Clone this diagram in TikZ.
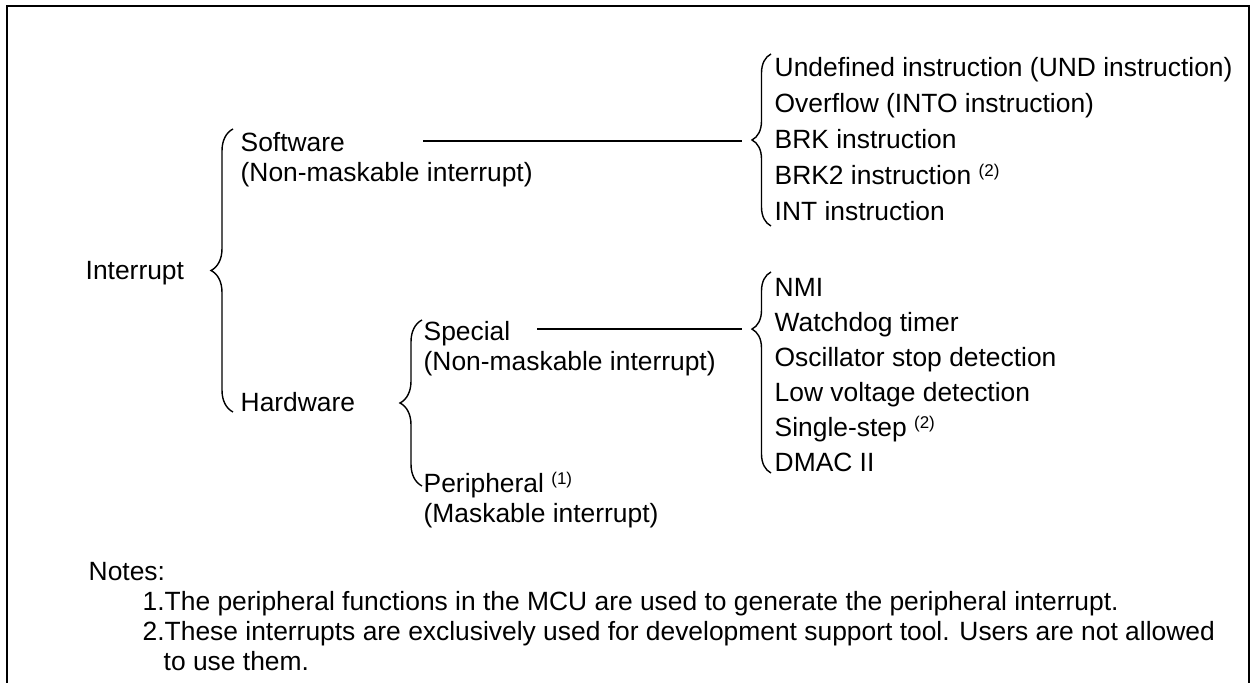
\documentclass[tikz,border=0pt]{standalone}
\usepackage{fontspec}
\setmainfont{Liberation Sans}
\usetikzlibrary{decorations.pathreplacing}

\tikzset{
  lbl/.style={anchor=base west, inner sep=0pt, font=\fontsize{13.2}{15}\selectfont},
  grp/.style={decorate, decoration={brace, amplitude=#1}, line width=0.7pt},
  grp/.default=9.5pt,
}
\newcommand{\fnref}[1]{\ \raisebox{0.6ex}{\fontsize{8.5}{9}\selectfont(#1)}}

\begin{document}
\begin{tikzpicture}[x=0.5pt, y=-0.5pt, line width=0.7pt]
  \useasboundingbox (0,0) rectangle (1255,683);
  \draw (7,683) -- (7,6) -- (1249,6) -- (1249,683);

  \node[lbl] (intr) at (85,280) {Interrupt};
  \node[lbl] (sw)   at (240,152) {Software};
  \node[lbl] (swn)  at (240,182) {(Non-maskable interrupt)};
  \node[lbl] (hw)   at (240,412) {Hardware};
  \node[lbl] (sp)   at (423,341) {Special};
  \node[lbl] (spn)  at (423,371) {(Non-maskable interrupt)};
  \node[lbl] (pe)   at (423,493) {Peripheral\fnref{1}};
  \node[lbl] (pen)  at (423,523) {(Maskable interrupt)};

  \node[lbl] (und)  at (774,77)  {Undefined instruction (UND instruction)};
  \node[lbl] (into) at (774,113) {Overflow (INTO instruction)};
  \node[lbl] (brk)  at (774,149) {BRK instruction};
  \node[lbl] (brk2) at (774,185) {BRK2 instruction\fnref{2}};
  \node[lbl] (int)  at (774,221) {INT instruction};

  \node[lbl] (nmi)  at (774,297) {NMI};
  \node[lbl] (wdt)  at (774,332) {Watchdog timer};
  \node[lbl] (osc)  at (774,367) {Oscillator stop detection};
  \node[lbl] (lvd)  at (774,402) {Low voltage detection};
  \node[lbl] (sst)  at (774,437) {Single-step\fnref{2}};
  \node[lbl] (dmac) at (774,472) {DMAC II};

  \node[lbl] (notes) at (88,581) {Notes:};
  \node[lbl] (note1) at (142,611) {1.The peripheral functions in the MCU are used to generate the peripheral interrupt.};
  \node[lbl] (note2) at (142,641) {2.These interrupts are exclusively used for development support tool. Users are not allowed};
  \node[lbl] (note3) at (163,671) {to use them.};

  \draw[grp=11pt] (233,412) -- (233,129);
  \draw[grp=11pt] (422,486) -- (422,320);
  \draw[grp] (771,226) -- (771,54);
  \draw[grp, decoration={aspect=0.716}] (771,473) -- (771,272);

  \coordinate (swL) at (423,141);
  \coordinate (swR) at (742,141);
  \coordinate (spL) at (537,329);
  \coordinate (spR) at (742,329);
  \draw (swL) -- (swR);
  \draw (spL) -- (spR);
\end{tikzpicture}
\end{document}
